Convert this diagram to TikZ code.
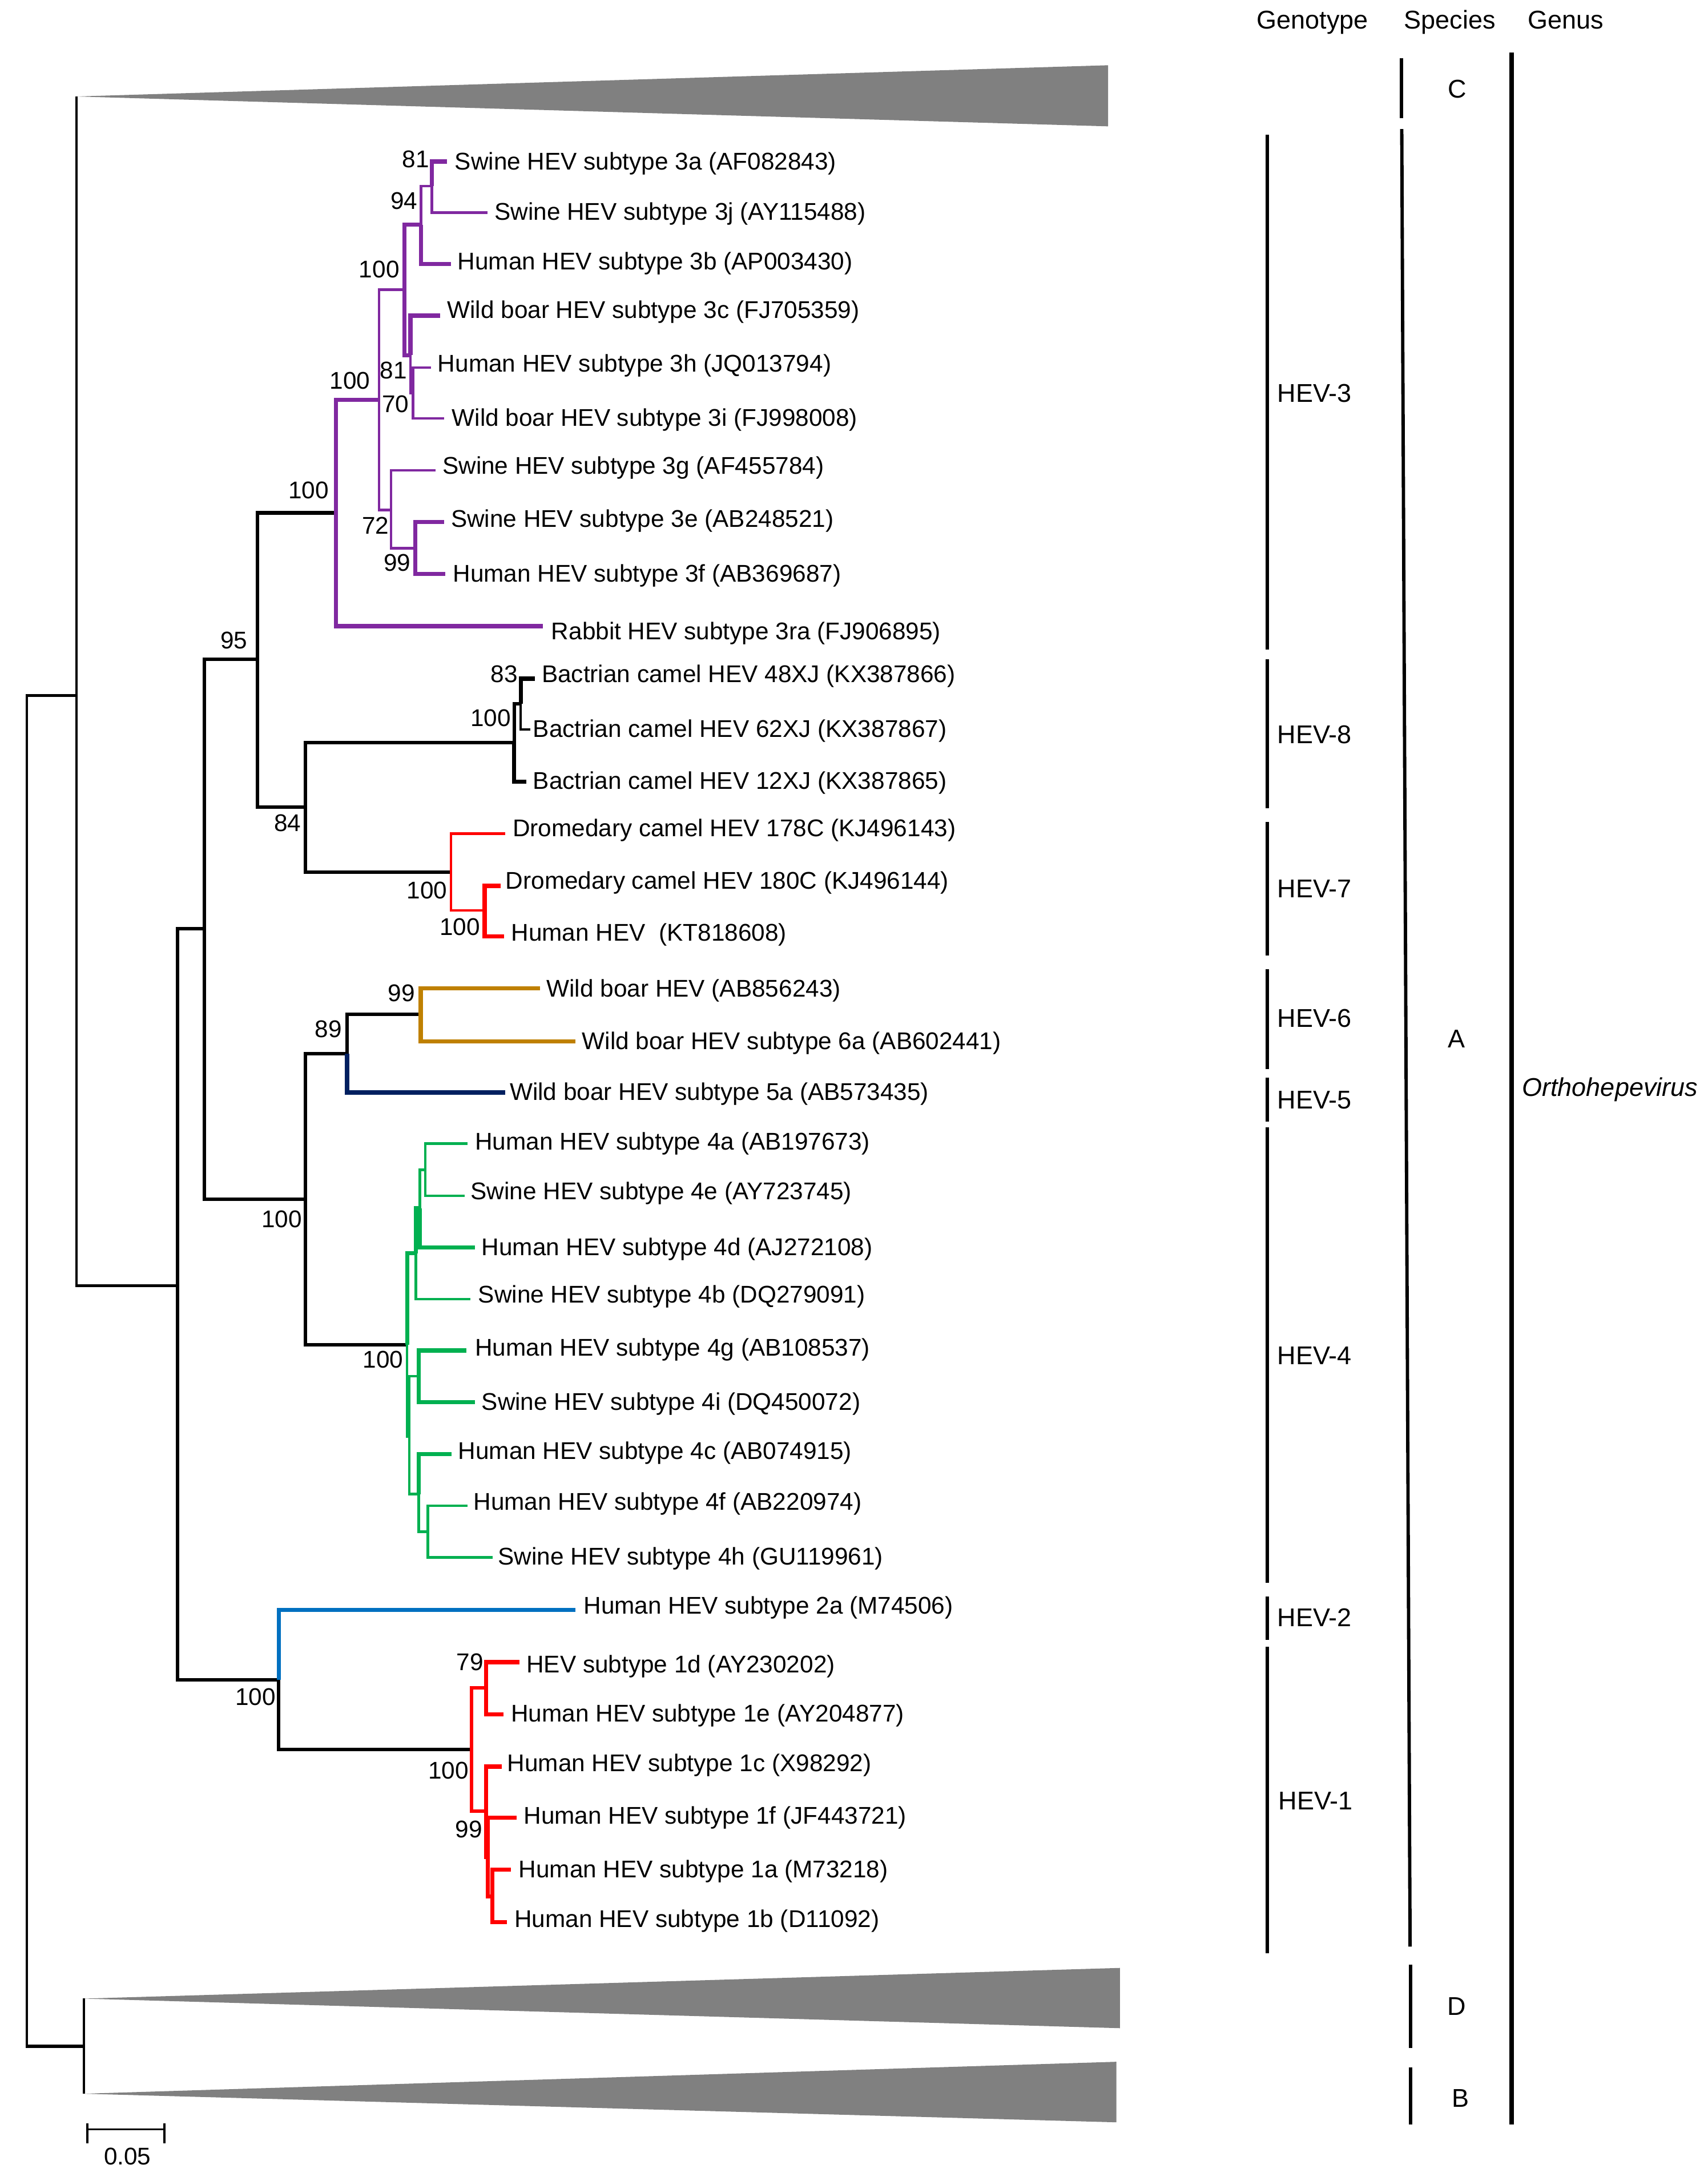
\documentclass[tikz,border=0pt]{standalone}
\usepackage{fontspec}
\setmainfont{Liberation Sans}
\definecolor{hpur}{RGB}{128,40,160}
\definecolor{hgold}{RGB}{191,128,0}
\definecolor{hnavy}{RGB}{0,32,96}
\definecolor{hgreen}{RGB}{0,176,80}
\definecolor{hblue}{RGB}{0,112,192}
\definecolor{hred}{RGB}{255,0,0}
\definecolor{hgray}{RGB}{128,128,128}
\newcommand\tlabfont{\fontsize{17.4pt}{20pt}\selectfont}
\newcommand\sidefont{\fontsize{18.5pt}{21pt}\selectfont}
% name, line end x, line y, text x, text y, text
\newcommand\leaf[6]{\coordinate (#1) at (#2,#3);\node[lab] (#1-t) at (#4,#5) {#6};}
\newcommand\boot[4]{\node[bs] (#1) at (#2,#3) {#4};}
\begin{document}
\begin{tikzpicture}[x=1pt,y=-1pt,
  tn/.style={line width=1.8pt},
  tk/.style={line width=3pt},
  tm/.style={line width=2.5pt},
  lab/.style={anchor=base west,inner sep=0pt,yshift=-6.2pt,font=\tlabfont},
  bs/.style={anchor=base east,inner sep=0pt,yshift=-6.1pt,font=\tlabfont},
  side/.style={anchor=base west,inner sep=0pt,yshift=-6.6pt,font=\sidefont},
  sidec/.style={anchor=base,inner sep=0pt,yshift=-6.6pt,font=\sidefont},
  clade/.style={fill=hgray,draw=none},
  gbar/.style={line width=2.2pt},
  sbar/.style={line width=2.4pt},
  gnbar/.style={line width=3pt}]
\useasboundingbox (0,0) rectangle (1230,1568);

% ---------- internal nodes ----------
\coordinate (R) at (19.4,988);
\coordinate (N55) at (55,501);
\coordinate (N61) at (60.5,1474);
\coordinate (Capex) at (55,69.5);
\coordinate (Dapex) at (60.5,1439.5);
\coordinate (Bapex) at (60.5,1508);
\coordinate (N128) at (128,926);
\coordinate (N147) at (147,669);
\coordinate (N185) at (185.5,475);
\coordinate (N242) at (242,369.4);
\coordinate (N274) at (273,288);
\coordinate (N291) at (291.2,208.7);
\coordinate (N303) at (303.2,161.9);
\coordinate (N311) at (311,134);
\coordinate (N296) at (295.6,255.8);
\coordinate (N297) at (297.4,283.2);
\coordinate (N282) at (281.7,367.4);
\coordinate (N299) at (299.1,394.8);
\coordinate (N220b) at (220.1,581.5);
\coordinate (N370) at (370.3,534.8);
\coordinate (N375) at (375,507);
\coordinate (N325) at (324.7,628);
\coordinate (N349) at (349,655.6);
\coordinate (N220) at (220.1,863.7);
\coordinate (N250) at (250,759);
\coordinate (N303g) at (303,730.7);
\coordinate (N293) at (293.2,968.7);
\coordinate (Na) at (299.5,902.6);
\coordinate (Nb) at (302.3,870.3);
\coordinate (Nc) at (306.2,842.5);
\coordinate (N294) at (294.8,1034.8);
\coordinate (Nd) at (301.5,991.1);
\coordinate (Ne) at (301.5,1076.1);
\coordinate (Nf) at (308.1,1103.2);
\coordinate (N202) at (200.8,1210);
\coordinate (N340) at (339.6,1260.1);
\coordinate (N350) at (350.2,1215.5);
\coordinate (N350b) at (350.2,1304.5);
\coordinate (N351) at (351.4,1337.5);
\coordinate (N355) at (354.6,1366);

% ---------- leaves ----------
\leaf{l3a}{321.9}{116.3}{327.4}{116.1}{Swine HEV subtype 3a (AF082843)}
\leaf{l3j}{351.2}{153.2}{356}{152.4}{Swine HEV subtype 3j (AY115488)}
\leaf{l3b}{324.6}{190.1}{329.4}{188.1}{Human HEV subtype 3b (AP003430)}
\leaf{l3c}{317.1}{227.4}{321.9}{223.2}{Wild boar HEV subtype 3c (FJ705359)}
\leaf{l3h}{310.3}{264.8}{315.1}{261.6}{Human HEV subtype 3h (JQ013794)}
\leaf{l3i}{319.9}{301.4}{325.3}{300.9}{Wild boar HEV subtype 3i (FJ998008)}
\leaf{l3g}{313.7}{338.8}{318.5}{335.3}{Swine HEV subtype 3g (AF455784)}
\leaf{l3e}{319.9}{376.1}{324.6}{373.6}{Swine HEV subtype 3e (AB248521)}
\leaf{l3f}{320.5}{413.5}{326}{412.8}{Human HEV subtype 3f (AB369687)}
\leaf{l3ra}{391.1}{451}{396.9}{454.6}{Rabbit HEV subtype 3ra (FJ906895)}
\leaf{l48}{385.2}{488.8}{390}{485.2}{Bactrian camel HEV 48XJ (KX387866)}
\leaf{l62}{382}{525.4}{383.7}{524.9}{Bactrian camel HEV 62XJ (KX387867)}
\leaf{l12}{379}{563.1}{383.7}{562}{Bactrian camel HEV 12XJ (KX387865)}
\leaf{l178}{364}{600.4}{369}{596.2}{Dromedary camel HEV 178C (KJ496143)}
\leaf{l180}{360.5}{638}{364}{634}{Dromedary camel HEV 180C (KJ496144)}
\leaf{lkt}{363}{674.5}{368}{671.7}{Human HEV~~(KT818608)}
\leaf{l6x}{389}{711.8}{393.5}{711.8}{Wild boar HEV (AB856243)}
\leaf{l6a}{414.3}{750}{419}{749.6}{Wild boar HEV subtype 6a (AB602441)}
\leaf{l5a}{364}{786.9}{367}{786.1}{Wild boar HEV subtype 5a (AB573435)}
\leaf{l4a}{336.9}{823.6}{342}{821.9}{Human HEV subtype 4a (AB197673)}
\leaf{l4e}{334.5}{861.3}{338.8}{857.8}{Swine HEV subtype 4e (AY723745)}
\leaf{l4d}{342}{898.4}{346.7}{897.9}{Human HEV subtype 4d (AJ272108)}
\leaf{l4b}{338.8}{935.7}{344.3}{932.1}{Swine HEV subtype 4b (DQ279091)}
\leaf{l4g}{336}{972.7}{342}{970.6}{Human HEV subtype 4g (AB108537)}
\leaf{l4i}{342}{1010}{346.7}{1009.5}{Swine HEV subtype 4i (DQ450072)}
\leaf{l4c}{325}{1047.3}{329.8}{1045}{Human HEV subtype 4c (AB074915)}
\leaf{l4f}{336.9}{1084.4}{340.8}{1081.5}{Human HEV subtype 4f (AB220974)}
\leaf{l4h}{354.6}{1121.7}{358.5}{1120.9}{Swine HEV subtype 4h (GU119961)}
\leaf{l2a}{414.3}{1159.5}{420.2}{1156.4}{Human HEV subtype 2a (M74506)}
\leaf{l1d}{374.2}{1197.2}{379}{1198.4}{HEV subtype 1d (AY230202)}
\leaf{l1e}{362.4}{1234.8}{367.9}{1234}{Human HEV subtype 1e (AY204877)}
\leaf{l1c}{361.2}{1272.4}{365.2}{1269.5}{Human HEV subtype 1c (X98292)}
\leaf{l1f}{371.9}{1309.1}{377}{1307.4}{Human HEV subtype 1f (JF443721)}
\leaf{l1a}{368}{1346.7}{373.4}{1346}{Human HEV subtype 1a (M73218)}
\leaf{l1b}{365.2}{1384.3}{370.3}{1382}{Human HEV subtype 1b (D11092)}

% ---------- collapsed clades ----------
\coordinate (Ct) at (798,47); \coordinate (Cb) at (798,91);
\coordinate (Dt) at (806.5,1417.4); \coordinate (Db) at (806.5,1460.8);
\coordinate (Bt) at (804,1485); \coordinate (Bb) at (804,1528.6);
\fill[clade] (Capex) -- (Ct) -- (Cb) -- cycle;
\fill[clade] (Dapex) -- (Dt) -- (Db) -- cycle;
\fill[clade] (Bapex) -- (Bt) -- (Bb) -- cycle;

% ---------- black branches ----------
\draw[tn] (R) |- (N55);
\draw[tn] (R) |- (N61);
\draw[tm] (N61) -- (N61 -| R);
\draw[tn] (N61) -- (Dapex);
\draw[tn] (N61) -- (Bapex);
\draw[tn] (N55) -- (Capex);
\draw[tn] (N55) |- (N128);
\draw[tm] (N128) |- (N147);
\draw[tm] (N128) |- (N202);
\draw[tm] (N147) |- (N185);
\draw[tm] (N147) |- (N220);
\draw[tm] (N185) |- (N242);
\draw[tm] (N185) |- (N220b);
\draw[tm] (N220b) |- (N370);
\draw[tm] (N220b) |- (N325);
\draw[tm] (N370) |- (N375);
\draw[tk] (N370) |- (l12);
\draw[tk] (N375) |- (l48);
\draw[tn] (N375) |- (l62);
\draw[tm] (N220) |- (N250);
\draw[tm] (N220) |- (N293);
\draw[tm] (N250) |- (N303g);
\draw[tm] (N202) |- (N340);

% ---------- HEV-3 (purple) ----------
\begin{scope}[hpur]
\draw[tk] (N242) |- (N274);
\draw[tk] (N242) |- (l3ra);
\draw[tn] (N274) |- (N291);
\draw[tn] (N274) |- (N282);
\draw[tk] (N291) |- (N303);
\draw[tk] (N291) |- (N296);
\draw[tn] (N303) |- (N311);
\draw[tk] (N303) |- (l3b);
\draw[tk] (N311) |- (l3a);
\draw[tn] (N311) |- (l3j);
\draw[tk] (N296) |- (l3c);
\draw[tn] (N296) |- (N297);
\draw[tn] (N297) |- (l3h);
\draw[tn] (N297) |- (l3i);
\draw[tn] (N282) |- (l3g);
\draw[tn] (N282) |- (N299);
\draw[tk] (N299) |- (l3e);
\draw[tk] (N299) |- (l3f);
\end{scope}

% ---------- HEV-7 (red) ----------
\begin{scope}[hred]
\draw[tn] (N325) |- (l178);
\draw[tn] (N325) |- (N349);
\draw[tk] (N349) |- (l180);
\draw[tk] (N349) |- (lkt);
\end{scope}

% ---------- HEV-6 / HEV-5 ----------
\begin{scope}[hgold]
\draw[tk] (N303g) |- (l6x);
\draw[tk] (N303g) |- (l6a);
\end{scope}
\draw[tk,hnavy] (N250) |- (l5a);

% ---------- HEV-4 (green) ----------
\begin{scope}[hgreen]
\draw[tk] (N293) |- (Na);
\draw[tn] (N293) |- (N294);
\draw[tk] (Na) |- (Nb);
\draw[tn] (Na) |- (l4b);
\draw[tn] (Nb) |- (Nc);
\draw[tk] (Nb) |- (l4d);
\draw[tn] (Nc) |- (l4a);
\draw[tn] (Nc) |- (l4e);
\draw[tn] (N294) |- (Nd);
\draw[tn] (N294) |- (Ne);
\draw[tk] (Nd) |- (l4g);
\draw[tk] (Nd) |- (l4i);
\draw[tk] (Ne) |- (l4c);
\draw[tn] (Ne) |- (Nf);
\draw[tn] (Nf) |- (l4f);
\draw[tn] (Nf) |- (l4h);
\end{scope}

% ---------- HEV-2 (blue) ----------
\draw[tk,hblue] (N202) |- (l2a);

% ---------- HEV-1 (red) ----------
\begin{scope}[hred]
\draw[tm] (N340) |- (N350);
\draw[tm] (N340) |- (N350b);
\draw[tk] (N350) |- (l1d);
\draw[tk] (N350) |- (l1e);
\draw[tk] (N350b) |- (l1c);
\draw[tk] (N350b) |- (N351);
\draw[tk] (N351) |- (l1f);
\draw[tk] (N351) |- (N355);
\draw[tk] (N355) |- (l1a);
\draw[tk] (N355) |- (l1b);
\end{scope}

% ---------- bootstrap values ----------
\boot{b1}{309.3}{114.6}{81}
\boot{b2}{300.8}{144.5}{94}
\boot{b3}{287.8}{193.8}{100}
\boot{b4}{293.3}{266.5}{81}
\boot{b5}{294.6}{291}{70}
\boot{b6}{266.7}{274}{100}
\boot{b7}{237}{353.2}{100}
\boot{b8}{280.3}{378.6}{72}
\boot{b9}{296}{405.3}{99}
\boot{b10}{178.4}{461.2}{95}
\boot{b11}{373}{485.2}{83}
\boot{b12}{368}{517.1}{100}
\boot{b13}{216.9}{592.6}{84}
\boot{b14}{322.3}{641}{100}
\boot{b15}{345.9}{667.4}{100}
\boot{b16}{299}{715.3}{99}
\boot{b17}{246.4}{741.3}{89}
\boot{b18}{217.7}{877.9}{100}
\boot{b19}{290.5}{979.3}{100}
\boot{b20}{198.8}{1222}{100}
\boot{b21}{348.3}{1197.2}{79}
\boot{b22}{337.6}{1275.2}{100}
\boot{b23}{347.5}{1317.4}{99}

% ---------- scale bar ----------
\coordinate (sbl) at (62.8,1533.7);
\coordinate (sbr) at (118.3,1533.7);
\draw[line width=1.3pt] (sbl) -- (sbr);
\draw[line width=1.7pt] ([yshift=4.4pt]sbl) -- ([yshift=-10pt]sbl);
\draw[line width=1.7pt] ([yshift=4.4pt]sbr) -- ([yshift=-10pt]sbr);
\node[anchor=base,inner sep=0pt,yshift=-6.1pt,font=\tlabfont] (sbt) at (91.8,1553.2) {0.05};

% ---------- headers ----------
\node[side] (hG) at (905,14) {Genotype};
\node[side] (hS) at (1011,14) {Species};
\node[side] (hN) at (1100,14) {Genus};

% ---------- genotype bars ----------
\foreach \a/\b in {97/468,475/582,592/688,698/770,776/808,812/1140,1150/1181,1186/1407}
  \draw[gbar] (912.6,\a) -- (912.6,\b);
\node[side] (g3) at (919.7,283) {HEV-3};
\node[side] (g8) at (919.7,529) {HEV-8};
\node[side] (g7) at (919.7,640) {HEV-7};
\node[side] (g6) at (919.7,733) {HEV-6};
\node[side] (g5) at (919.7,792) {HEV-5};
\node[side] (g4) at (919.7,976) {HEV-4};
\node[side] (g2) at (919.7,1165) {HEV-2};
\node[side] (g1) at (920.5,1297) {HEV-1};

% ---------- species bars ----------
\draw[sbar] (1009.3,42) -- (1009.3,85);
\draw[sbar] (1009.5,93) -- (1015.5,1402);
\draw[sbar] (1015.7,1415) -- (1015.7,1475);
\draw[sbar] (1015.7,1489) -- (1015.7,1530);
\node[sidec] (sC) at (1049.5,64) {C};
\node[sidec] (sA) at (1049,748) {A};
\node[sidec] (sD) at (1049,1445) {D};
\node[sidec] (sB) at (1052,1511) {B};

% ---------- genus bar ----------
\draw[gnbar] (1088.6,38) -- (1088.6,1530);
\node[side,font=\sidefont\itshape] (gen) at (1096,783) {Orthohepevirus};
\end{tikzpicture}
\end{document}
